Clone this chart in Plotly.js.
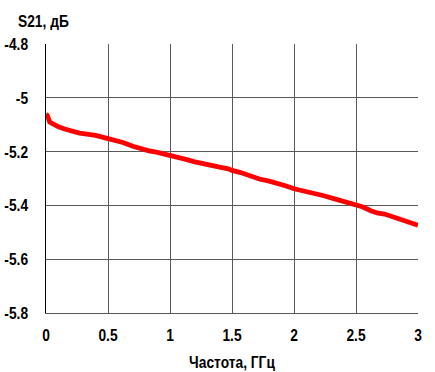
<!DOCTYPE html>
<html>
<head>
<meta charset="utf-8">
<script src="https://cdn.plot.ly/plotly-3.0.1.min.js"></script>
<style>html,body{margin:0;padding:0;background:#fff;}#chart{width:435px;height:372px;}</style>
</head>
<body>
<div id="chart"></div>
<script>
var freqGHz = [0, 0.01, 0.03, 0.06, 0.1, 0.15, 0.2, 0.27, 0.33, 0.4, 0.5, 0.56, 0.62, 0.7, 0.76, 0.83, 0.89, 0.95, 1.0, 1.05, 1.12, 1.2, 1.27, 1.33, 1.4, 1.47, 1.5, 1.57, 1.65, 1.72, 1.8, 1.86, 1.93, 2.0, 2.08, 2.16, 2.24, 2.32, 2.4, 2.48, 2.55, 2.62, 2.67, 2.73, 2.8, 2.87, 2.94, 3.0];
var s21dB = [-5.06, -5.065, -5.09, -5.10, -5.108, -5.116, -5.124, -5.131, -5.135, -5.14, -5.152, -5.158, -5.166, -5.18, -5.19, -5.197, -5.202, -5.208, -5.212, -5.219, -5.228, -5.238, -5.246, -5.252, -5.258, -5.264, -5.27, -5.278, -5.293, -5.302, -5.31, -5.316, -5.327, -5.338, -5.346, -5.354, -5.364, -5.375, -5.385, -5.394, -5.405, -5.42, -5.428, -5.432, -5.443, -5.455, -5.466, -5.474];
var xTicks = [0, 0.5, 1, 1.5, 2, 2.5, 3];
var xTickText = ['0', '0.5', '1', '1.5', '2', '2.5', '3'];
var yTicks = [-5.8, -5.6, -5.4, -5.2, -5, -4.8];
var yTickText = ['-5.8', '-5.6', '-5.4', '-5.2', '-5', '-4.8'];
var yTitle = 'S21, дБ';
var xTitle = 'Частота, ГГц';

var fontFam = '"Liberation Sans", Arial, sans-serif';
var boldFont = {family: fontFam, size: 17, color: '#000', weight: 'bold'};
var data = [{
  x: freqGHz, y: s21dB, type: 'scatter', mode: 'lines',
  line: {color: '#ff0000', width: 4.8}, hoverinfo: 'skip'
}];
var layout = {
  width: 435, height: 372,
  margin: {l: 46, r: 17, t: 44, b: 59},
  paper_bgcolor: '#ffffff', plot_bgcolor: '#ffffff',
  showlegend: false,
  font: boldFont,
  title: {
    text: yTitle, font: boldFont,
    xref: 'container', yref: 'container',
    x: 18 / 435, xanchor: 'left', y: 1 - 15 / 372, yanchor: 'top'
  },
  xaxis: {
    range: [0, 3], tickvals: xTicks, ticktext: xTickText,
    showgrid: true, gridcolor: '#595959', gridwidth: 1,
    zeroline: false, showline: true, linecolor: '#595959', linewidth: 1,
    ticks: '', ticklen: 0, ticklabelstandoff: 7,
    tickfont: boldFont,
    title: {text: xTitle, font: boldFont, standoff: 11}
  },
  yaxis: {
    range: [-5.8, -4.8], tickvals: yTicks, ticktext: yTickText,
    showgrid: true, gridcolor: '#595959', gridwidth: 1,
    zeroline: false, showline: true, linecolor: '#000', linewidth: 1.5,
    ticks: '', ticklen: 0, ticklabelstandoff: 13,
    tickfont: boldFont
  }
};
Plotly.newPlot('chart', data, layout, {displayModeBar: false, staticPlot: true}).then(function () {
  var sel = document.querySelectorAll('#chart .xtick text, #chart .ytick text, #chart .g-xtitle text, #chart .gtitle');
  sel.forEach(function (t) {
    var w = t.getComputedTextLength();
    t.setAttribute('textLength', (w * 0.81).toFixed(2));
    t.setAttribute('lengthAdjust', 'spacingAndGlyphs');
  });
});
</script>
</body>
</html>
